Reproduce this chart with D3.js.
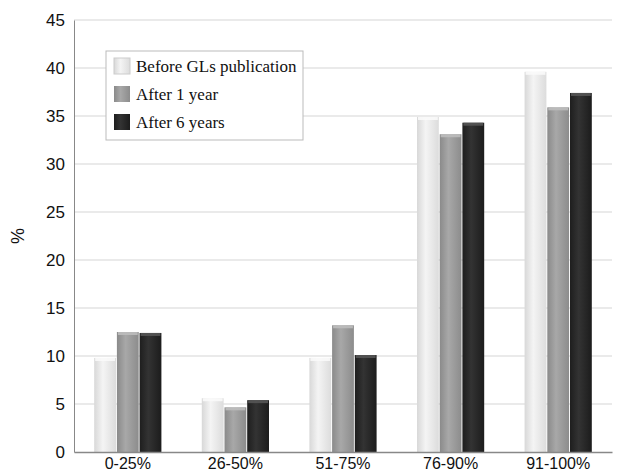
<!DOCTYPE html>
<html><head><meta charset="utf-8">
<script src="https://cdn.jsdelivr.net/npm/d3@7"></script>
<style>body{margin:0;background:#fff}svg{display:block}</style>
</head><body>
<script>
const categories = ["0-25%","26-50%","51-75%","76-90%","91-100%"];
const seriesNames = ["Before GLs publication","After 1 year","After 6 years"];
const before = [9.8, 5.6, 9.8, 34.9, 39.6];
const after1 = [12.5, 4.65, 13.2, 33.1, 35.9];
const after6 = [12.4, 5.4, 10.1, 34.3, 37.4];
const yTicks = [0,5,10,15,20,25,30,35,40,45];
const colors = [["#d8d8d8","#f4f4f4","#dcdcdc"],["#8a8a8a","#a8a8a8","#8c8c8c"],["#1e1e1e","#333333","#1c1c1c"]];

const W=617,H=475, m={l:74,r:5,t:20,b:23};
const svg=d3.select("body").append("svg").attr("width",W).attr("height",H);
const defs=svg.append("defs");
colors.forEach((c,i)=>{
  const g=defs.append("linearGradient").attr("id","g"+i).attr("x1","0").attr("x2","1").attr("y1","0").attr("y2","0");
  g.append("stop").attr("offset","0").attr("stop-color",c[0]);
  g.append("stop").attr("offset","0.4").attr("stop-color",c[1]);
  g.append("stop").attr("offset","1").attr("stop-color",c[2]);
});
const x=d3.scaleBand().domain(categories).range([m.l,W-m.r]);
const xs=d3.scaleBand().domain(d3.range(3)).range([0,x.bandwidth()]).paddingInner(0.04).paddingOuter(0.89);
const y=d3.scaleLinear().domain([0,45]).range([H-m.b,m.t]);

svg.append("g").selectAll("line").data(yTicks.filter(d=>d>0)).join("line")
 .attr("x1",m.l).attr("x2",W-m.r).attr("y1",d=>y(d)).attr("y2",d=>y(d))
 .attr("stroke","#d6d6d6").attr("stroke-width",1.2);

const data=[before,after1,after6];
const g=svg.append("g");
categories.forEach((c,ci)=>{
  data.forEach((s,si)=>{
    const bx=x(c)+xs(si), bw=xs.bandwidth(), by=y(s[ci]);
    g.append("rect").attr("x",bx).attr("y",by).attr("width",bw).attr("height",y(0)-by).attr("fill",`url(#g${si})`);
    g.append("rect").attr("x",bx+1).attr("y",by).attr("width",bw-2).attr("height",3)
      .attr("fill",si==2?"#555":si==1?"#bdbdbd":"#fafafa").attr("opacity",0.9);
  });
});

const font="Liberation Sans, Arial, sans-serif";
const ya=d3.axisLeft(y).tickValues(yTicks).tickSize(0).tickPadding(9);
const yg=svg.append("g").attr("transform",`translate(${m.l},0)`).call(ya);
yg.select(".domain").attr("stroke","#888");
yg.selectAll("text").attr("font-family",font).attr("font-size",17).attr("fill","#111");
const xa=d3.axisBottom(x).tickSize(0).tickPadding(6);
const xg=svg.append("g").attr("transform",`translate(0,${y(0)})`).call(xa);
xg.select(".domain").attr("stroke","#888").attr("stroke-width",1.5);
xg.selectAll("text").attr("font-family",font).attr("font-size",16).attr("fill","#111");

svg.append("text").attr("transform","translate(24,236) rotate(-90)").attr("text-anchor","middle")
 .attr("font-family",font).attr("font-size",18).attr("fill","#111").text("%");

const lg=svg.append("g");
lg.append("rect").attr("x",106).attr("y",51).attr("width",197).attr("height",89).attr("fill","#fff").attr("stroke","#bbb");
seriesNames.forEach((n,i)=>{
  const yy=58+i*28;
  lg.append("rect").attr("x",114).attr("y",yy).attr("width",16).attr("height",16).attr("fill",`url(#g${i})`).attr("stroke",i==0?"#ccc":"none");
  lg.append("text").attr("x",136).attr("y",yy+14).attr("font-family","Liberation Serif, Times New Roman, serif")
   .attr("font-size",17).attr("fill","#111").text(n);
});
</script>
</body></html>
